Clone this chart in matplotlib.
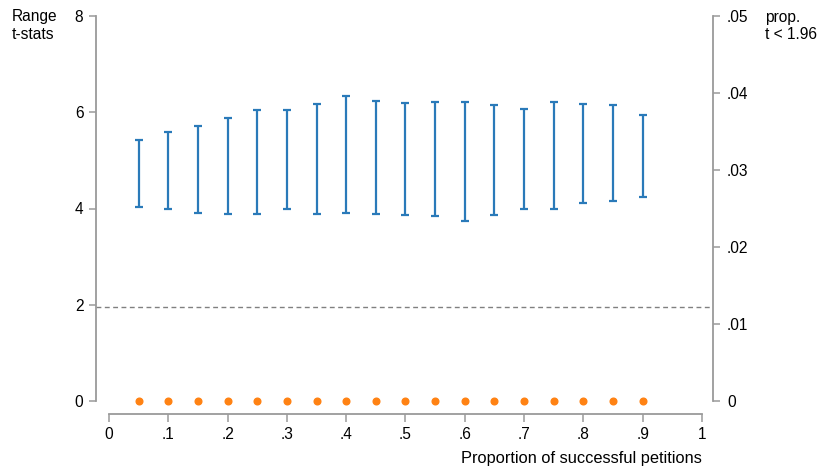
import matplotlib
matplotlib.use("Agg")
import matplotlib.pyplot as plt
import numpy as np

plt.rcParams['font.family'] = ['Liberation Sans', 'DejaVu Sans']

x = [0.05, 0.10, 0.15, 0.20, 0.25, 0.30, 0.35, 0.40, 0.45, 0.50,
     0.55, 0.60, 0.65, 0.70, 0.75, 0.80, 0.85, 0.90]
t_low = [4.04, 3.98, 3.91, 3.89, 3.89, 4.00, 3.89, 3.91, 3.89, 3.87,
         3.85, 3.74, 3.86, 3.98, 4.00, 4.12, 4.15, 4.24]
t_high = [5.42, 5.58, 5.71, 5.88, 6.04, 6.04, 6.18, 6.34, 6.23, 6.19,
          6.21, 6.21, 6.16, 6.07, 6.21, 6.17, 6.15, 5.95]
prop = [0.0] * 18

xticks = [0, .1, .2, .3, .4, .5, .6, .7, .8, .9, 1]
xticklabels = ['0', '.1', '.2', '.3', '.4', '.5', '.6', '.7', '.8', '.9', '1']
yticks = [0, 2, 4, 6, 8]
rticks = [0, .01, .02, .03, .04, .05]
rticklabels = ['0', '.01', '.02', '.03', '.04', '.05']
crit = 1.96

W, H = 820, 468
fig = plt.figure(figsize=(W / 100, H / 100), dpi=100)
L, R, T, B = 96, 713, 16, 401
ax = fig.add_axes([L / W, 1 - B / H, (R - L) / W, (B - T) / H])

px_per = (702 - 109)
x0 = -(109 - L) / px_per
x1 = 1 + (R - 702) / px_per
ax.set_xlim(x0, x1)
ax.set_ylim(0, 8)

blue = '#2a7ab9'
orange = '#ff8213'
gray = '#9a9a9a'

lo = np.array(t_low)
hi = np.array(t_high)
mid = (lo + hi) / 2
ax.errorbar(x, mid, yerr=(hi - lo) / 2, fmt='none', ecolor=blue,
            elinewidth=1.6, capsize=3.0, capthick=1.6, clip_on=False, zorder=3)

ax.axhline(crit, color='#808080', lw=1.0, ls=(0, (3.5, 2.5)), zorder=2)

ax.spines['top'].set_visible(False)
ax.spines['right'].set_visible(False)
ax.spines['left'].set_color(gray)
ax.spines['left'].set_bounds(0, 8)
ax.spines['bottom'].set_position(('outward', 13 * 0.72))
ax.spines['bottom'].set_color(gray)
ax.spines['bottom'].set_bounds(0, 1)
ax.spines['left'].set_linewidth(1.3)
ax.spines['bottom'].set_linewidth(1.3)

ax.set_xticks(xticks)
ax.set_xticklabels(xticklabels)
ax.set_yticks(yticks)
ax.set_yticklabels([str(v) for v in yticks])
ax.tick_params(axis='both', colors=gray, labelcolor='black', labelsize=11.2,
               width=1.1, direction='out')
ax.tick_params(axis='x', pad=3.6, length=5.8)
ax.tick_params(axis='y', pad=4, length=5)

ax2 = ax.twinx()
ax2.set_ylim(0, 0.05)
ax2.plot(x, prop, 'o', color=orange, ms=4.8, clip_on=False, zorder=4)
ax2.set_yticks(rticks)
ax2.set_yticklabels(rticklabels)
for s in ['top', 'left', 'bottom']:
    ax2.spines[s].set_visible(False)
ax2.spines['right'].set_color(gray)
ax2.spines['right'].set_linewidth(1.3)
ax2.tick_params(axis='y', colors=gray, labelcolor='black', labelsize=11.2,
                length=5, width=1.1, direction='out', pad=5)

fig.text(12 / W, 1 - 9 / H, 'Range\nt-stats', ha='left', va='top', fontsize=11.2,
         linespacing=1.25)
fig.text(765 / W, 1 - 10 / H, 'prop.\nt < 1.96', ha='left', va='top', fontsize=11.2,
         linespacing=1.2)
fig.text(702 / W, 1 - 458 / H, 'Proportion of successful petitions', ha='right',
         va='center', fontsize=11.8)

fig.savefig('out.png', dpi=100)
